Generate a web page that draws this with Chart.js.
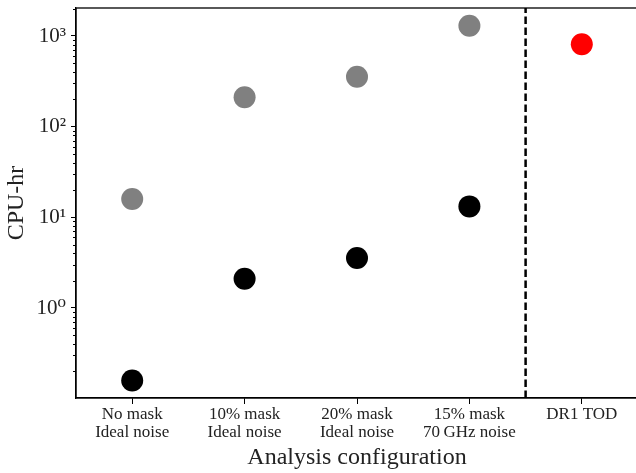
<!DOCTYPE html>
<html>
<head>
<meta charset="utf-8">
<script src="https://cdn.jsdelivr.net/npm/chart.js@4.4.1/dist/chart.umd.min.js"></script>
<style>
  html, body { margin: 0; padding: 0; background: #fff; overflow: hidden; }
  #wrap { width: 640px; height: 473px; }
</style>
</head>
<body>
<div id="wrap"><canvas id="cpuChart" width="640" height="473"></canvas></div>
<script>
// data
const categories = [
    ["No mask", "Ideal noise"],
    ["10% mask", "Ideal noise"],
    ["20% mask", "Ideal noise"],
    ["15% mask", "70\u2009GHz noise"],
    ["DR1 TOD"]
];
const grayValues  = [15.9, 211, 356, 1298, null];
const blackValues = [0.159, 2.10, 3.56, 13.2, null];
const redValues   = [null, null, null, null, 811];

const yMajorTicks  = [1, 10, 100, 1000];
const yTickLabels  = ["10\u2070", "10\u00b9", "10\u00b2", "10\u00b3"];
const yMin = 0.1017;
const yMax = 2036;

const SERIF = "'Liberation Serif', 'DejaVu Serif', serif";

// dashed separator + box around plot + minor log ticks
const extrasPlugin = {
    id: 'extras',
    afterDatasetsDraw(chart) {
        const ctx = chart.ctx;
        const area = chart.chartArea;
        const x = chart.scales.x;

        const sepX = (x.getPixelForValue(3) + x.getPixelForValue(4)) / 2;
        ctx.save();
        ctx.strokeStyle = '#000';
        ctx.lineWidth = 2.5;
        ctx.setLineDash([7.5, 3.5]);
        ctx.beginPath();
        ctx.moveTo(sepX, area.bottom);
        ctx.lineTo(sepX, area.top);
        ctx.stroke();
        ctx.restore();
    },
    afterDraw(chart) {
        const ctx = chart.ctx;
        const area = chart.chartArea;
        const y = chart.scales.y;

        ctx.save();
        ctx.strokeStyle = '#000';
        ctx.lineWidth = 1;
        y.ticks.forEach(t => {
            if (t.major) return;
            const py = Math.round(y.getPixelForValue(t.value)) + 0.5;
            ctx.beginPath();
            ctx.moveTo(area.left, py);
            ctx.lineTo(area.left - 3, py);
            ctx.stroke();
        });
        ctx.lineWidth = 1.3;
        ctx.strokeRect(area.left, area.top, area.right - area.left, area.bottom - area.top);
        ctx.restore();
    }
};

const pointStyle = (color) => ({
    showLine: false,
    backgroundColor: color,
    borderColor: color,
    borderWidth: 0,
    pointRadius: 11,
    pointHoverRadius: 11
});

new Chart(document.getElementById('cpuChart'), {
    type: 'line',
    data: {
        labels: categories,
        datasets: [
            { label: 'gray', data: grayValues, ...pointStyle('#808080') },
            { label: 'black', data: blackValues, ...pointStyle('#000000') },
            { label: 'red', data: redValues, ...pointStyle('#ff0000') }
        ]
    },
    options: {
        responsive: false,
        animation: false,
        layout: { autoPadding: false, padding: { top: 8, right: 2, left: 0, bottom: 0 } },
        plugins: {
            legend: { display: false },
            tooltip: { enabled: false }
        },
        scales: {
            x: {
                type: 'category',
                offset: true,
                grid: { drawOnChartArea: false, drawTicks: true, tickLength: 6, color: '#000', tickWidth: 1 },
                border: { display: true, color: '#000', width: 1.3 },
                ticks: {
                    color: '#222',
                    padding: 2,
                    maxRotation: 0,
                    autoSkip: false,
                    font: { family: SERIF, size: 17, lineHeight: 18 / 17 }
                },
                title: {
                    display: true,
                    text: 'Analysis configuration',
                    color: '#222',
                    font: { family: SERIF, size: 24, lineHeight: 1.2 },
                    padding: { top: 0, bottom: 1 }
                },
                afterFit(scale) {
                    scale.height = 75;
                    scale.paddingLeft = 0;
                    scale.paddingRight = 0;
                }
            },
            y: {
                type: 'logarithmic',
                min: yMin,
                max: yMax,
                grid: {
                    drawOnChartArea: false,
                    drawTicks: true,
                    tickLength: 5,
                    tickWidth: 1,
                    tickColor: (c) => (c.tick && c.tick.major) ? '#000' : 'rgba(0,0,0,0)'
                },
                border: { display: true, color: '#000', width: 1.3 },
                afterBuildTicks(scale) {
                    const ticks = [];
                    for (let e = -2; e <= 4; e++) {
                        for (let d = 1; d <= 9; d++) {
                            const v = d * Math.pow(10, e);
                            if (v >= yMin && v <= yMax) {
                                ticks.push({ value: v, major: yMajorTicks.includes(v) });
                            }
                        }
                    }
                    scale.ticks = ticks;
                },
                ticks: {
                    color: '#222',
                    padding: 5,
                    autoSkip: false,
                    font: { family: SERIF, size: 21 },
                    callback: (v) => {
                        const i = yMajorTicks.findIndex(m => Math.abs(m - v) < 1e-9 * m);
                        return i >= 0 ? yTickLabels[i] : '';
                    }
                },
                title: {
                    display: true,
                    text: 'CPU-hr',
                    color: '#222',
                    font: { family: SERIF, size: 24, lineHeight: 1.2 },
                    padding: { top: 2, bottom: 0 }
                },
                afterFit(scale) {
                    scale.width = 76;
                    scale.paddingTop = 0;
                    scale.paddingBottom = 0;
                }
            }
        }
    },
    plugins: [extrasPlugin]
});
</script>
</body>
</html>
